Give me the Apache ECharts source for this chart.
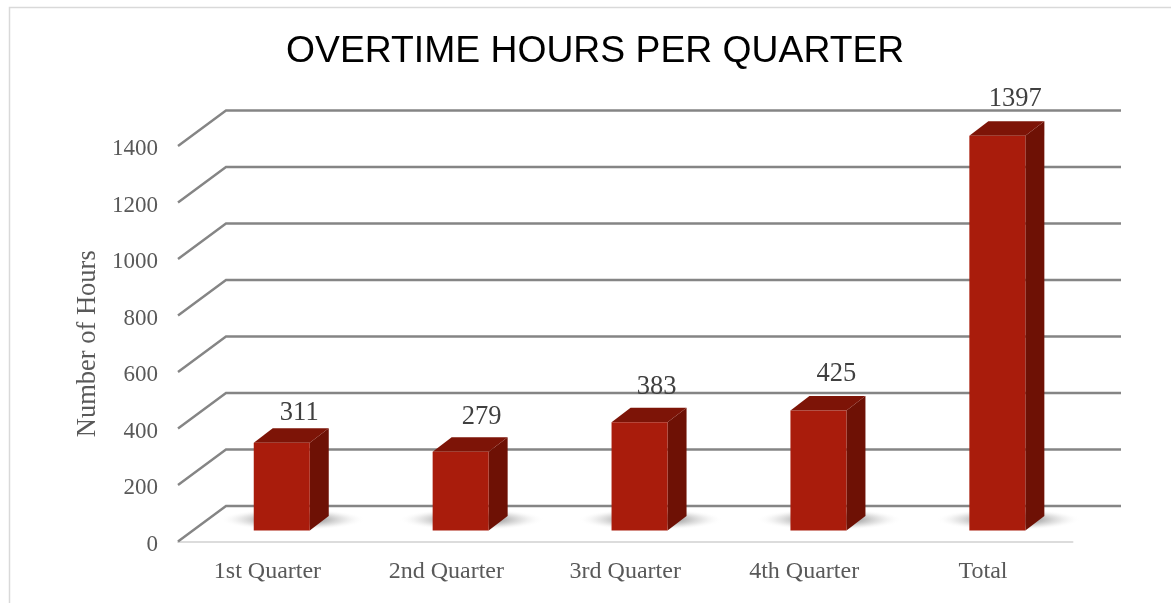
<!DOCTYPE html>
<html>
<head>
<meta charset="utf-8">
<script src="https://cdn.jsdelivr.net/npm/echarts@6/dist/echarts.min.js"></script>
<style>html,body{margin:0;padding:0;background:#fff}#c{width:1171px;height:603px}</style>
</head>
<body>
<div id="c"></div>
<script>
const categories = ['1st Quarter', '2nd Quarter', '3rd Quarter', '4th Quarter', 'Total'];
const hours = [311, 279, 383, 425, 1397];
const gridValues = [0, 200, 400, 600, 800, 1000, 1200, 1400];
const titleText = 'OVERTIME HOURS PER QUARTER';
const yName = 'Number of Hours';

const wallDx = 48, wallDy = -35.5;
const floorDx = 14.3, floorDy = -11;
const barW = 56, sideDx = 19, sideDy = -14.5;
const labelLift = [15, 20, 21, 22, 22];
const labelShift = [17.5, 21, 17, 18, 18];

const chart = echarts.init(document.getElementById('c'));
chart.setOption({
  animation: false,
  backgroundColor: '#fff',
  title: {
    text: titleText, left: 281, top: 28,
    textStyle: { fontFamily: '"Liberation Sans"', fontSize: 37.3, fontWeight: 'normal', color: '#000' }
  },
  graphic: [
    { type: 'polyline', silent: true, z: 0, shape: { points: [[9.5, 603], [9.5, 7.5], [1171, 7.5]] },
      style: { stroke: '#d9d9d9', lineWidth: 1.5, fill: null } }
  ],
  grid: { left: 178, width: 894.5, top: 146, height: 395.5 },
  xAxis: {
    type: 'category', data: categories,
    axisLine: { show: true, lineStyle: { color: '#dcdcdc', width: 2 } },
    axisTick: { show: false },
    axisLabel: { fontFamily: '"Liberation Serif"', fontSize: 24, color: '#595959', margin: 18 }
  },
  yAxis: {
    type: 'value', min: 0, max: 1400, interval: 200,
    name: yName, nameLocation: 'middle', nameGap: 76, nameRotate: 90,
    nameTextStyle: { fontFamily: '"Liberation Serif"', fontSize: 26.5, color: '#595959' },
    axisLine: { show: false }, axisTick: { show: false }, splitLine: { show: false },
    axisLabel: { fontFamily: '"Liberation Serif"', fontSize: 23, color: '#595959', margin: 20,
      verticalAlign: 'top', lineHeight: 6, formatter: v => String(v) }
  },
  series: [
    {
      type: 'custom', z: 1, silent: true,
      data: gridValues.map(v => [0, v]),
      renderItem(params, api) {
        const cs = params.coordSys;
        const y = api.coord([0, api.value(1)])[1];
        return {
          type: 'polyline',
          shape: { points: [[cs.x, y], [cs.x + wallDx, y + wallDy], [cs.x + cs.width + wallDx + 0.5, y + wallDy]] },
          style: { stroke: '#858585', lineWidth: 2.4, fill: null }
        };
      }
    },
    {
      type: 'custom', z: 2, silent: true,
      data: hours.map((v, i) => [i, v]),
      renderItem(params, api) {
        const p0 = api.coord([api.value(0), 0]);
        return {
          type: 'circle',
          x: p0[0] + floorDx + 11,
          y: p0[1] + floorDy - 11,
          scaleX: 6.6,
          shape: { cx: 0, cy: 0, r: 11 },
          style: {
            fill: { type: 'radial', x: 0.5, y: 0.5, r: 0.5, global: false, colorStops: [
              { offset: 0, color: 'rgba(120,120,120,0.8)' },
              { offset: 0.45, color: 'rgba(135,135,135,0.6)' },
              { offset: 0.72, color: 'rgba(175,175,175,0.28)' },
              { offset: 1, color: 'rgba(255,255,255,0)' }
            ] }
          }
        };
      }
    },
    {
      type: 'custom', z: 3,
      data: hours.map((v, i) => [i, v]),
      renderItem(params, api) {
        const i = api.value(0), v = api.value(1);
        const p0 = api.coord([i, 0]);
        const p1 = api.coord([i, v]);
        const l = p0[0] + floorDx - barW / 2, r = l + barW;
        const b = p0[1] + floorDy, t = p1[1] + floorDy;
        return {
          type: 'group',
          children: [
            { type: 'polygon',
              shape: { points: [[r, b], [r + sideDx, b + sideDy], [r + sideDx, t + sideDy], [r, t]] },
              style: { fill: '#6e1105' } },
            { type: 'polygon',
              shape: { points: [[l, t], [l + sideDx, t + sideDy], [r + sideDx, t + sideDy], [r, t]] },
              style: { fill: '#7d1407' } },
            { type: 'rect',
              shape: { x: l, y: t, width: barW, height: b - t },
              style: { fill: '#a91c0c' } },
            { type: 'text',
              style: {
                text: String(v), x: l + barW / 2 + labelShift[i], y: t + sideDy - labelLift[i],
                align: 'center', verticalAlign: 'middle',
                fontFamily: '"Liberation Serif"', fontSize: 26.5, fill: '#404040'
              } }
          ]
        };
      }
    }
  ]
});
</script>
</body>
</html>
